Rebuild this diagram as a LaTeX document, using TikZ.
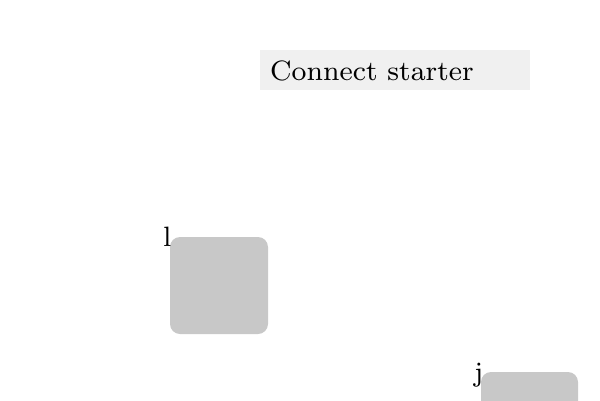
\documentclass[tikz,border=0pt]{standalone}
\usepackage{tikz}
\usepackage{fontspec}
\newfontfamily\smlm{lmroman8-regular.otf}
\definecolor{barfill}{HTML}{F0F0F0}
\definecolor{boxfill}{HTML}{C8C8C8}
\tikzset{
  px/.style={x=1pt,y=-1pt},
  bigtext/.style={font=\smlm\fontsize{28}{33}\selectfont, inner sep=0pt},
  sq/.style={fill=boxfill, rounded corners=10pt, draw=none}
}
\begin{document}
\begin{tikzpicture}[px]
\useasboundingbox (0,0) rectangle (600,400);
\fill[barfill] (260,50) rectangle (530,90);
\node[bigtext, anchor=base west] (title) at (270,80) {Connect starter};
\begin{scope}
\clip (0,0) rectangle (600,400);
\path[sq] (170,237) rectangle (268,334);
\node[bigtext, anchor=base west] (l) at (163,246) {l};
\path[sq] (481,372) rectangle (578,469);
\node[bigtext, anchor=base west] (j) at (474,381) {j};
\end{scope}
\end{tikzpicture}
\end{document}
